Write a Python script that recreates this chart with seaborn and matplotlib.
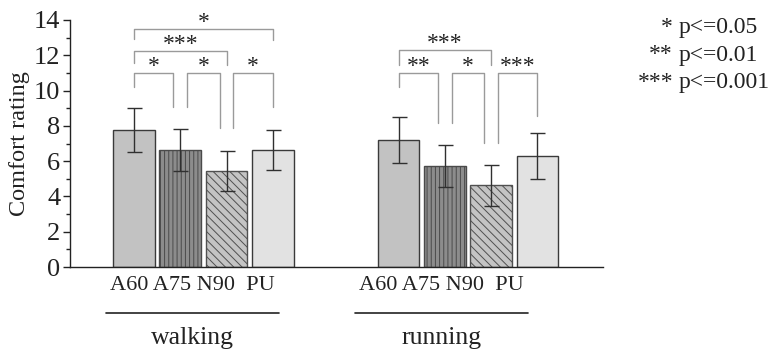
import numpy as np
import pandas as pd
import matplotlib
matplotlib.use("Agg")
import matplotlib.pyplot as plt
from matplotlib.ticker import MultipleLocator
import matplotlib.transforms as mtransforms
import seaborn as sns

# data
materials = ["A60", "A75", "N90", "PU"]
activities = ["walking", "running"]
walking_mean = [7.75, 6.62, 5.42, 6.62]
walking_sd = [1.25, 1.20, 1.13, 1.15]
running_mean = [7.20, 5.73, 4.63, 6.29]
running_sd = [1.28, 1.20, 1.17, 1.33]

# significance brackets: (bar i, bar j, label, top, left leg end, right leg end)
walking_sig = [(0, 1, "*", 11.0, 10.2, 9.05),
               (1, 2, "*", 11.0, 9.05, 7.87),
               (2, 3, "*", 11.0, 7.87, 9.05),
               (0, 2, "***", 12.27, 11.55, 11.45),
               (0, 3, "*", 13.5, 12.9, 12.85)]
running_sig = [(0, 1, "**", 11.0, 10.2, 8.15),
               (1, 2, "*", 11.0, 8.15, 7.02),
               (2, 3, "***", 11.0, 7.02, 8.55),
               (0, 2, "***", 12.3, 11.45, 11.45)]

sig_levels = ["*", "**", "***"]
sig_text = ["p<=0.05", "p<=0.01", "p<=0.001"]

df = pd.DataFrame({
    "activity": np.repeat(activities, len(materials)),
    "material": materials * 2,
    "rating": walking_mean + running_mean,
    "sd": walking_sd + running_sd,
})

sns.set_style("ticks")
plt.rcParams["font.family"] = ["Liberation Serif", "DejaVu Serif"]
plt.rcParams["hatch.linewidth"] = 0.7

fig = plt.figure(figsize=(7.8, 3.6), dpi=100)
ax = fig.add_axes([70 / 780, 1 - 267 / 360, 533 / 780, 247 / 360])

colors = {"A60": "#c2c2c2", "A75": "#8c8c8c", "N90": "#c4c4c4", "PU": "#e2e2e2"}
hatches = {"A60": "", "A75": "||||", "N90": "\\\\\\\\", "PU": ""}

sns.barplot(data=df, x="activity", y="rating", hue="material", order=activities,
            hue_order=materials, palette=colors, width=0.7, gap=0.1,
            errorbar=None, edgecolor="#3a3a3a", linewidth=1.0, legend=False, ax=ax)

centers = {}
for mat, cont in zip(materials, ax.containers):
    for act, bar in zip(activities, cont):
        bar.set_hatch(hatches[mat])
        if mat == "A75":
            bar.set_edgecolor("#4a4a4a")
        if mat == "N90":
            bar.set_edgecolor("#505050")
        centers[(act, mat)] = bar.get_x() + bar.get_width() / 2

for _, row in df.iterrows():
    ax.errorbar(centers[(row.activity, row.material)], row.rating, yerr=row.sd,
                fmt="none", ecolor="#303030", elinewidth=1.0, capsize=5.4,
                capthick=1.0, zorder=5)

# brackets
slot = 0.175
shrink = 0.15 * slot
for act, sigs in zip(activities, [walking_sig, running_sig]):
    for i, j, lab, top, yl, yr in sigs:
        xl = centers[(act, materials[i])]
        xr = centers[(act, materials[j])]
        if j - i == 1:
            if i > 0:
                xl += shrink
            if j < 3:
                xr -= shrink
        ax.plot([xl, xl, xr, xr], [yl, top, top, yr], color="#9a9a9a",
                lw=1.0, clip_on=False, zorder=3)
        ax.text((xl + xr) / 2, top + 0.05, lab, ha="center", va="baseline",
                fontsize=17, color="#222222", clip_on=False)

ax.set_xlim(-0.504, 1.51)
ax.set_ylim(0, 14)
ax.yaxis.set_major_locator(MultipleLocator(2))
ax.yaxis.set_minor_locator(MultipleLocator(1))
ax.tick_params(axis="y", which="major", direction="out", length=5, width=1,
               labelsize=19, pad=2, colors="#222222")
ax.tick_params(axis="y", which="minor", direction="out", length=3, width=1,
               colors="#222222")
ax.set_xticks([])
ax.set_xlabel("")
ax.set_ylabel("Comfort rating", fontsize=17.5, labelpad=3, color="#222222")
sns.despine(ax=ax)
for s in ["left", "bottom"]:
    ax.spines[s].set_linewidth(1.0)
    ax.spines[s].set_color("#222222")

# group labels below the axis
trans = mtransforms.blended_transform_factory(ax.transData, fig.transFigure)
label_shift = {"walking": -0.04, "running": -0.10}
for k, act in enumerate(activities):
    xc = k + label_shift[act]
    ax.text(xc, 1 - 285 / 360, " ".join(materials[:-1]) + "  " + materials[-1],
            transform=trans, ha="center", va="center", fontsize=16, color="#222222")
    ax.plot([xc - 0.327, xc + 0.327], [1 - 312.5 / 360] * 2, transform=trans,
            color="#222222", lw=1.2, clip_on=False)
    ax.text(xc, 1 - 338 / 360, act, transform=trans, ha="center", va="center",
            fontsize=18.5, color="#222222")

# significance key
for n, (st, tx) in enumerate(zip(sig_levels, sig_text)):
    yb = 1 - (33 + 27.5 * n) / 360
    fig.text(673 / 780, yb, st, ha="right", va="baseline", fontsize=17, color="#222222")
    fig.text(679 / 780, yb, tx, ha="left", va="baseline", fontsize=17, color="#222222")

fig.savefig("out.png", dpi=100)
